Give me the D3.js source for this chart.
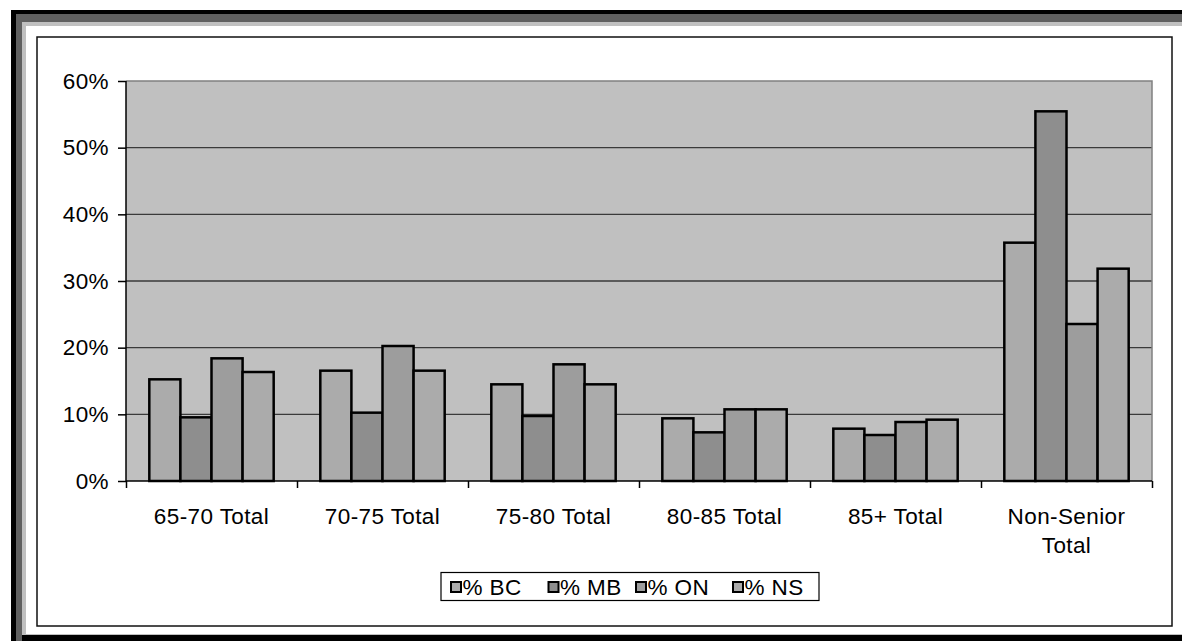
<!DOCTYPE html>
<html><head><meta charset="utf-8">
<script src="https://cdn.jsdelivr.net/npm/d3@7"></script>
<style>html,body{margin:0;padding:0;background:#fff;}svg{display:block;}</style>
</head><body>
<svg id="chart" width="1182" height="641"></svg>
<script>
const categories = ["65-70 Total","70-75 Total","75-80 Total","80-85 Total","85+ Total","Non-Senior Total"];
const seriesNames = ["% BC","% MB","% ON","% NS"];
const bcValues = [15.25, 16.55, 14.5, 9.4, 7.85, 35.75];
const mbValues = [9.55, 10.25, 9.75, 7.3, 6.9, 55.45];
const onValues = [18.4, 20.25, 17.5, 10.75, 8.85, 23.55];
const nsValues = [16.35, 16.55, 14.5, 10.75, 9.2, 31.85];
const yTicks = [0, 10, 20, 30, 40, 50, 60];
const colors = ["#ababab", "#8e8e8e", "#9d9d9d", "#ababab"];

const seriesValues = [bcValues, mbValues, onValues, nsValues];
const FONT = "'Liberation Sans', Arial, sans-serif";
const FS = 22.5, LS = 0.4;
const svg = d3.select("#chart");

// outer decorative frame
svg.append("rect").attr("x",11).attr("y",10).attr("width",1171).attr("height",631).attr("fill","#000");
svg.append("rect").attr("x",16).attr("y",14).attr("width",1166).attr("height",627).attr("fill","#606060");
svg.append("rect").attr("x",22).attr("y",635).attr("width",1160).attr("height",6).attr("fill","#000");
svg.append("rect").attr("x",22).attr("y",22).attr("width",1160).attr("height",613).attr("fill","#c0c0c0");
svg.append("rect").attr("x",26).attr("y",26).attr("width",1156).attr("height",608).attr("fill","#fff");
// chart area border
svg.append("rect").attr("x",37).attr("y",37).attr("width",1135).attr("height",589)
  .attr("fill","#fff").attr("stroke","#111").attr("stroke-width",1.5);

const L = 126, R = 1152, T = 81, B = 481;
const x0 = d3.scaleBand().domain(categories).range([L, R]).paddingInner(0).paddingOuter(0);
const bw = x0.bandwidth();
const barW = bw / 5.5;
const x1 = d3.scaleBand().domain(seriesNames).range([0.75*barW, 0.75*barW + 4*barW]).padding(0);
const y = d3.scaleLinear().domain([0, 60]).range([B, T]);

// plot area
svg.append("rect").attr("x",L).attr("y",T).attr("width",R-L).attr("height",B-T).attr("fill","#c0c0c0");
// gridlines
svg.append("g").selectAll("line").data(yTicks.filter(d=>d>0 && d<60)).join("line")
  .attr("x1",L).attr("x2",R).attr("y1",d=>y(d)).attr("y2",d=>y(d))
  .attr("stroke","#3a3a3a").attr("stroke-width",1.3);
// plot border top/right
svg.append("path").attr("d",`M${L},${T}H${R}V${B}`).attr("fill","none").attr("stroke","#808080").attr("stroke-width",1.5);

// bars
const groups = svg.append("g").selectAll("g").data(categories).join("g")
  .attr("transform", d => `translate(${x0(d)},0)`);
groups.selectAll("rect").data((c,i) => seriesNames.map((s,j) => ({s, j, v: seriesValues[j][i]}))).join("rect")
  .attr("x", d => x1(d.s)).attr("width", x1.bandwidth())
  .attr("y", d => y(d.v)).attr("height", d => y(0) - y(d.v))
  .attr("fill", d => colors[d.j]).attr("stroke","#000").attr("stroke-width",2.5);

// y axis
const yAxis = svg.append("g").attr("transform",`translate(${L},0)`)
  .call(d3.axisLeft(y).tickValues(yTicks).tickSize(8).tickPadding(9).tickFormat(d => d + "%"));
yAxis.select(".domain").attr("stroke","#000").attr("stroke-width",1.5).attr("d",`M0,${T}V${B}`);
yAxis.selectAll(".tick line").attr("stroke","#000").attr("stroke-width",1.5);
yAxis.selectAll("text").attr("font-family",FONT).attr("font-size",FS).attr("letter-spacing",LS).attr("fill","#000");

// x axis boundary ticks
const xb = d3.scaleLinear().domain([0, categories.length]).range([L, R]);
const xAxisB = svg.append("g").attr("transform",`translate(0,${B})`)
  .call(d3.axisBottom(xb).tickValues(d3.range(categories.length+1)).tickSize(7).tickFormat(""));
xAxisB.select(".domain").attr("stroke","#000").attr("stroke-width",1.5).attr("d",`M${L},0H${R}`);
xAxisB.selectAll(".tick line").attr("stroke","#000").attr("stroke-width",1.5);

// x labels
const xAxis = svg.append("g").attr("transform",`translate(0,${B})`)
  .call(d3.axisBottom(x0).tickSize(0).tickPadding(0));
xAxis.select(".domain").remove();
xAxis.selectAll("text").attr("font-family",FONT).attr("font-size",FS).attr("letter-spacing",LS).attr("fill","#000")
  .attr("dy",null).attr("y",0)
  .each(function(d){
    const t = d3.select(this); t.text(null);
    const lines = d === "Non-Senior Total" ? ["Non-Senior","Total"] : [d];
    lines.forEach((ln,i) => t.append("tspan").attr("x",0).attr("y",42.5 + i*29).text(ln));
  });

// legend
const lg = svg.append("g");
lg.append("rect").attr("x",441).attr("y",572.5).attr("width",378).attr("height",28)
  .attr("fill","#fff").attr("stroke","#000").attr("stroke-width",1.2);
const legX = [451, 548.5, 636, 733];
seriesNames.forEach((s,i) => {
  lg.append("rect").attr("x",legX[i]).attr("y",582).attr("width",10).attr("height",10)
    .attr("fill",colors[i]).attr("stroke","#000").attr("stroke-width",2);
  lg.append("text").attr("x",legX[i]+11.5).attr("y",594.5).attr("font-family",FONT).attr("font-size",FS)
    .attr("letter-spacing",LS).attr("fill","#000").text(s);
});
</script>
</body></html>
